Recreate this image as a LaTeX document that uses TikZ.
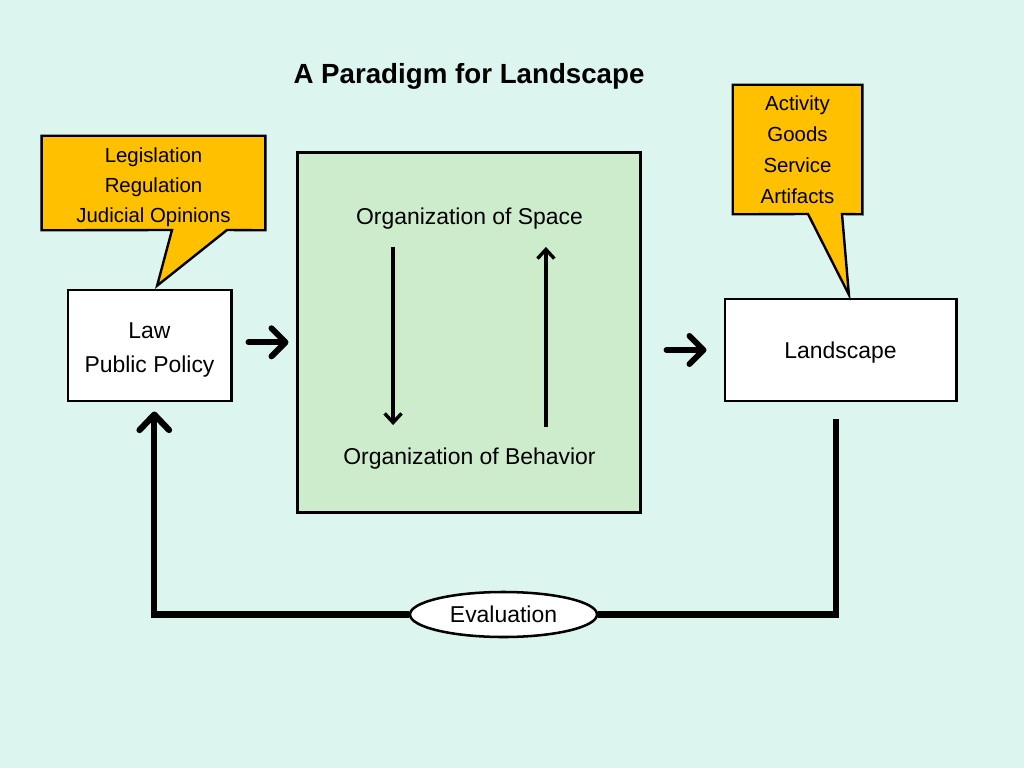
\documentclass[tikz,border=0pt]{standalone}
\usepackage{fontspec}
\setmainfont{Liberation Sans}
\usetikzlibrary{arrows.meta,shapes.geometric}
\definecolor{bgmint}{RGB}{221,245,239}
\definecolor{calloutorange}{RGB}{255,192,0}
\definecolor{spacegreen}{RGB}{204,236,204}
\begin{document}
\begin{tikzpicture}[x=0.025cm, y=0.025cm]
\tikzstyle{every node}+=[inner sep=0pt]
\tikzstyle{boxtext}=[font=\fontsize{16.3}{24.1}\selectfont, align=center]
\tikzstyle{notetext}=[font=\fontsize{14.5}{21.5}\selectfont]
\tikzstyle{box}=[draw=black, line width=2.1pt, fill=white]
\tikzstyle{note}=[align=center, notetext]
\tikzstyle{callout}=[draw=black, line width=1.7pt, fill=calloutorange, line join=miter]
\tikzstyle{bigarrow}=[line width=4.2pt, line cap=round, -{Straight Barb[length=10pt,width=20pt,round]}]
\tikzstyle{thinarrow}=[line width=2.4pt, -{Straight Barb[length=6.5pt,width=12pt]}]
\tikzstyle{fbline}=[line width=4.4pt, line join=miter]
\fill [bgmint] (0,0) rectangle (1024,-768);
\useasboundingbox (0,0) rectangle (1024,-768);
% title
\node [font=\bfseries\fontsize{19.7}{24}\selectfont] (title) at (469,-76) {A Paradigm for Landscape};
% boxes
\node [box, minimum width=4.075cm, minimum height=2.775cm] (law) at (149.5,-345.5) {};
\node [boxtext] (lawtext) at (149.5,-350) {Law\\Public Policy};
\node [box, minimum width=5.775cm, minimum height=2.55cm] (land) at (840.5,-350) {};
\node [boxtext] (landtext) at (840.5,-353) {Landscape};
\node [draw=black, line width=2.1pt, fill=spacegreen, minimum width=8.55cm, minimum height=8.975cm] (org) at (469,-332.5) {};
\node [boxtext] (space) at (469.5,-219) {Organization of Space};
\node [boxtext] (behav) at (469.5,-459) {Organization of Behavior};
\draw [thinarrow] ([xshift=-1.91cm,yshift=-0.425cm]space.south) -- ([xshift=-1.91cm,yshift=0.575cm]behav.north);
\draw [thinarrow] ([xshift=1.91cm,yshift=0.525cm]behav.north) -- ([xshift=1.91cm,yshift=-0.425cm]space.south);
% callouts
\node [minimum width=5.575cm, minimum height=2.35cm] (legis) at (153.5,-183) {};
\draw [callout] (legis.north west) -- (legis.north east) -- (legis.south east) -- (227,-230)
  -- ([xshift=0.19cm,yshift=0.07cm]law.north) -- (172,-230) -- (legis.south west) -- cycle;
\node [note] (legistext) at (153.5,-187) {Legislation\\Regulation\\Judicial Opinions};
\node [minimum width=3.225cm, minimum height=3.225cm] (goods) at (797.5,-149.5) {};
\draw [callout] (goods.north west) -- (goods.north east) -- (goods.south east) -- (842,-214)
  -- ([xshift=0.21cm,yshift=0.07cm]land.north) -- (808,-214) -- (goods.south west) -- cycle;
\node [note, font=\fontsize{14.5}{22}\selectfont] (goodstext) at (goods) {Activity\\Goods\\Service\\Artifacts};
% flow
\draw [bigarrow] ([xshift=0.4cm,yshift=0.08cm]law.east) -- ([xshift=-0.2cm,yshift=0.08cm]law.east -| org.west);
\draw [bigarrow] ([xshift=0.625cm]org.east |- land.west) -- ([xshift=-0.425cm]land.west);
% feedback
\node [ellipse, draw=black, line width=1.8pt, fill=white, minimum width=4.675cm, minimum height=1.125cm, boxtext] (eval) at (503.5,-614.5) {Evaluation};
\draw [fbline] ([xshift=-0.11cm,yshift=-0.425cm]land.south) |- (eval.east);
\draw [fbline, -{Straight Barb[length=11pt,width=21pt,round]}] (eval.west) -| ([xshift=0.12cm,yshift=-0.225cm]law.south);
\end{tikzpicture}
\end{document}
